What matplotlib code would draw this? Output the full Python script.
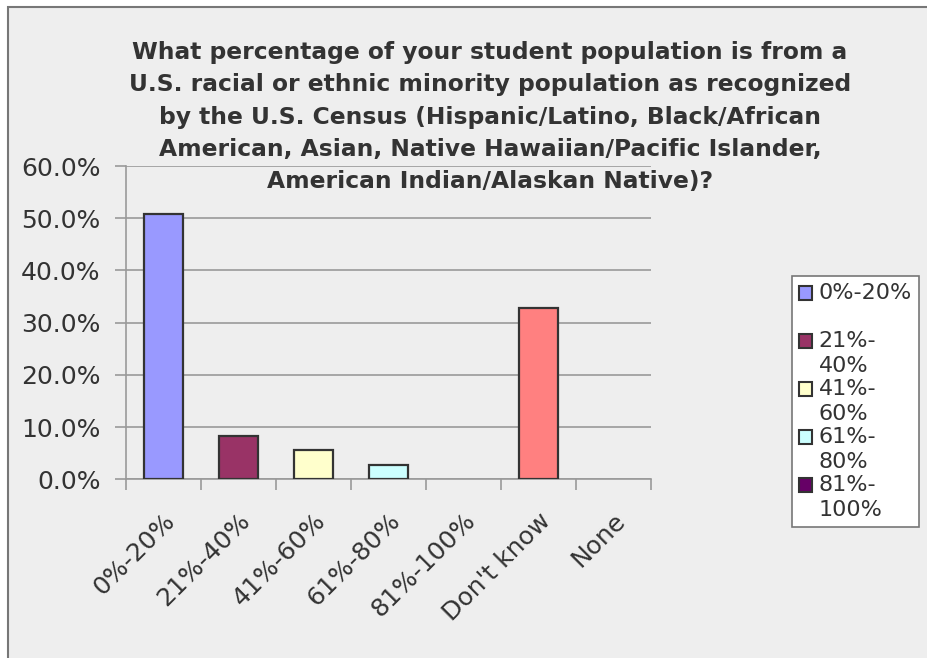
import matplotlib
matplotlib.use('Agg')
import matplotlib.pyplot as plt
from matplotlib.patches import Patch, Rectangle
from matplotlib.transforms import ScaledTranslation
import numpy as np

# survey answers (share of respondents, %)
categories = ['0%-20%', '21%-40%', '41%-60%', '61%-80%', '81%-100%', "Don't know", 'None']
values = [50.8, 8.2, 5.6, 2.7, 0.0, 32.8, 0.0]
colors = ['#9999ff', '#993366', '#ffffcc', '#ccffff', '#660066', '#ff8080', '#0066cc']
legend_labels = ['0%-20%\n', '21%-\n40%', '41%-\n60%', '61%-\n80%', '81%-\n100%']
yticks = [0, 10, 20, 30, 40, 50, 60]

title = ('What percentage of your student population is from a\n'
         'U.S. racial or ethnic minority population as recognized\n'
         'by the U.S. Census (Hispanic/Latino, Black/African\n'
         'American, Asian, Native Hawaiian/Pacific Islander,\n'
         'American Indian/Alaskan Native)?')

W, H = 928, 658
bg = '#eeeeee'
grid_c = '#999999'
txt_c = '#333333'

fig = plt.figure(figsize=(W / 100, H / 100), dpi=100, facecolor='white')

# chart area frame
frame = Rectangle((8 / W, -0.1), 1.2, 1 - 7 / H + 0.1, transform=fig.transFigure,
                  facecolor=bg, edgecolor='#777777', linewidth=1.5, zorder=-5)
fig.patches.append(frame)

ax = fig.add_axes([125.7 / W, 1 - 479.3 / H, (651 - 125.7) / W, (479.3 - 166) / H])
ax.set_facecolor(bg)

x = np.arange(len(categories))
# empty categories get no outline at all
lws = [1.6 if v > 0 else 0 for v in values]
ax.bar(x, values, width=0.52, color=colors, edgecolor=txt_c, linewidth=lws, zorder=3)

ax.set_xlim(-0.5, len(categories) - 0.5)
ax.set_ylim(0, 60)
ax.set_yticks(yticks)
ax.set_yticklabels(['%.1f%%' % v for v in yticks], fontsize=18, color=txt_c)
ax.yaxis.grid(True, color=grid_c, linewidth=1.2, zorder=0)

# category boundaries get the tick marks, labels sit in the middle
ax.set_xticks(np.arange(len(categories) + 1) - 0.5)
ax.set_xticklabels([])
ax.set_xticks(x, minor=True)
ax.set_xticklabels(categories, minor=True, rotation=45, ha='right', va='top',
                   rotation_mode='anchor', fontsize=18, color=txt_c)
shift = ScaledTranslation(-4 / 72, 0, fig.dpi_scale_trans)
for lbl in ax.get_xticklabels(minor=True):
    lbl.set_transform(lbl.get_transform() + shift)
ax.tick_params(axis='x', which='major', length=8, color=grid_c, width=1.2)
ax.tick_params(axis='x', which='minor', length=0, pad=21)
ax.tick_params(axis='y', length=8, color=grid_c, width=1.2, pad=10)

for s in ['top', 'right']:
    ax.spines[s].set_visible(False)
for s in ['left', 'bottom']:
    ax.spines[s].set_color(grid_c)
    ax.spines[s].set_linewidth(1.2)

fig.text(490 / W, 1 - 41 / H, title, ha='center', va='top', fontsize=16.8,
         fontweight='bold', color=txt_c, linespacing=1.52)

handles = [Patch(facecolor=c, edgecolor=txt_c, linewidth=1.5) for c in colors[:5]]
leg = fig.legend(handles, legend_labels, loc='upper left',
                 bbox_to_anchor=(792 / W, 1 - 276 / H), fontsize=16,
                 frameon=True, fancybox=False, framealpha=1, edgecolor='#777777',
                 handlelength=0.6, handleheight=0.6, handletextpad=0.3,
                 labelspacing=0.1, borderpad=0.3, borderaxespad=0)
leg.get_frame().set_linewidth(1.2)
for t in leg.get_texts():
    t.set_color(txt_c)
    t.set_linespacing(1.36)
# put each swatch next to the first line of its label
for p in leg.legend_handles:
    p.set_y(p.get_y() + 9)

fig.savefig('out.png', dpi=100, facecolor='white')
